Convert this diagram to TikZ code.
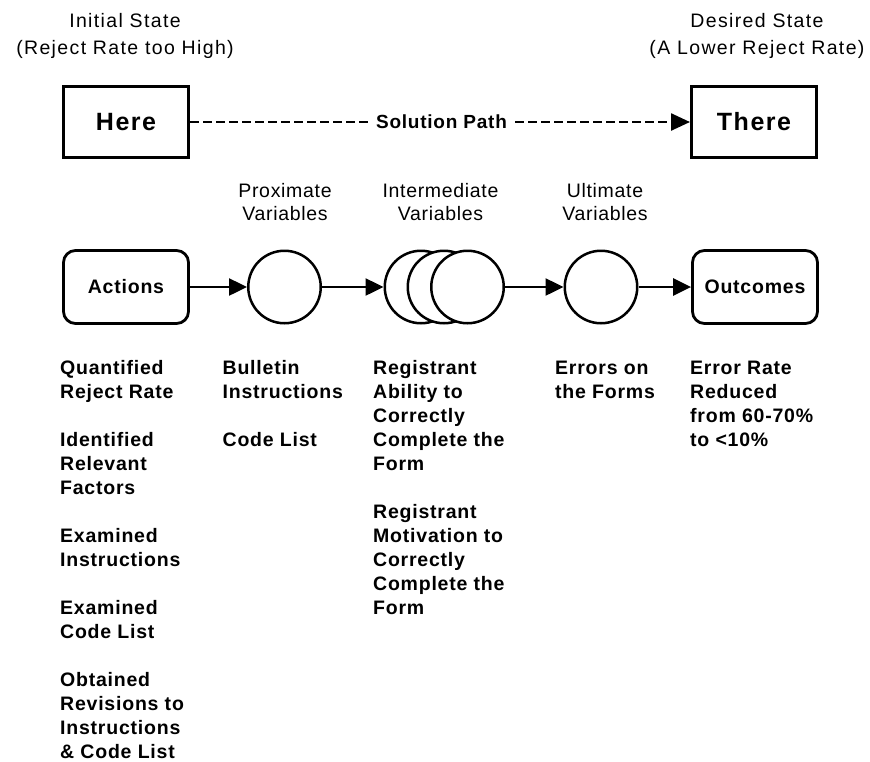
\documentclass[tikz,border=0pt]{standalone}
\usepackage{fontspec}
\setmainfont{Liberation Sans}
\newfontfamily\labfont[LetterSpace=7]{Liberation Sans}
\newfontfamily\hdfont[LetterSpace=3.5]{Liberation Sans}
\newfontfamily\lstfont[LetterSpace=4]{Liberation Sans}
\newfontfamily\bigfont[LetterSpace=6]{Liberation Sans}
\usetikzlibrary{arrows.meta}
\begin{document}
\begin{tikzpicture}[x=1pt,y=-1pt,
  toplab/.style={inner sep=0pt, anchor=base, font=\labfont\fontsize{19.5}{27}\selectfont},
  hdlab/.style={inner sep=0pt, anchor=base, font=\hdfont\fontsize{19.5}{23.5}\selectfont},
  lstlab/.style={inner sep=0pt, anchor=base west, font=\lstfont\bfseries\fontsize{19.5}{24}\selectfont},
  statebox/.style={draw, line width=3pt, minimum width=125pt, minimum height=71pt, inner sep=0pt, font=\bigfont\bfseries\fontsize{25}{30}\selectfont},
  endbox/.style={draw, line width=2.8pt, rounded corners=12pt, minimum width=125pt, minimum height=73pt, inner sep=0pt, font=\lstfont\bfseries\fontsize{19.5}{22}\selectfont},
  varcirc/.style={circle, draw, line width=2.5pt, minimum size=72.5pt, inner sep=0pt, fill=white},
  flow/.style={line width=2.5pt, -{Triangle[length=18pt,width=17pt]}},
  dashflow/.style={line width=2.5pt, dash pattern=on 9pt off 4pt, -{Triangle[length=19pt,width=17pt]}}
]
\useasboundingbox[fill=white] (0,0) rectangle (870,761);

% top labels
\node[toplab] (init) at (125,27) {\parbox[t]{250pt}{\centering Initial State\\(Reject Rate too High)}};
\node[toplab] (desired) at (757,27) {\parbox[t]{250pt}{\centering Desired State\\(A Lower Reject Rate)}};

% states
\node[statebox] (here) at (126,122) {Here};
\node[statebox] (there) at (754,122) {There};
\draw[dashflow] (here.east) -- (there.west);
\node[fill=white, inner xsep=5pt, inner ysep=2pt, font=\lstfont\bfseries\fontsize{19}{22}\selectfont] (sol) at (441.5,121.5) {Solution Path};

% headers
\node[hdlab] (hprox) at (285,197) {\parbox[t]{150pt}{\centering Proximate\\Variables}};
\node[hdlab] (hint) at (440.5,197) {\parbox[t]{150pt}{\centering Intermediate\\Variables}};
\node[hdlab] (hult) at (605,197) {\parbox[t]{150pt}{\centering Ultimate\\Variables}};

% flow
\node[endbox] (actions) at (126,287) {Actions};
\node[varcirc] (prox) at (284.5,287) {};
\node[varcirc] (im1) at (421,287) {};
\node[varcirc] (im2) at (444,287) {};
\node[varcirc] (im3) at (467.5,287) {};
\node[varcirc] (ult) at (601,287) {};
\node[endbox] (outcomes) at (755,287) {Outcomes};

\draw[flow] (actions.east) -- (prox.west);
\draw[flow] (prox.east) -- (im1.west);
\draw[flow] (im3.east) -- (ult.west);
\draw[flow] (ult.east) -- (outcomes.west);

% lists
\node[lstlab] (l1) at (60,374) {\parbox[t]{160pt}{\raggedright Quantified\\Reject Rate\\[24pt]Identified\\Relevant\\Factors\\[24pt]Examined\\Instructions\\[24pt]Examined\\Code List\\[24pt]Obtained\\Revisions to\\Instructions\\\& Code List}};
\node[lstlab] (l2) at (222.5,374) {\parbox[t]{150pt}{\raggedright Bulletin\\Instructions\\[24pt]Code List}};
\node[lstlab] (l3) at (373,374) {\parbox[t]{170pt}{\raggedright Registrant\\Ability to\\Correctly\\Complete the\\Form\\[24pt]Registrant\\Motivation to\\Correctly\\Complete the\\Form}};
\node[lstlab] (l4) at (555,374) {\parbox[t]{130pt}{\raggedright Errors on\\the Forms}};
\node[lstlab] (l5) at (690,374) {\parbox[t]{170pt}{\raggedright Error Rate\\Reduced\\from 60-70\%\\to <10\%}};
\end{tikzpicture}
\end{document}
